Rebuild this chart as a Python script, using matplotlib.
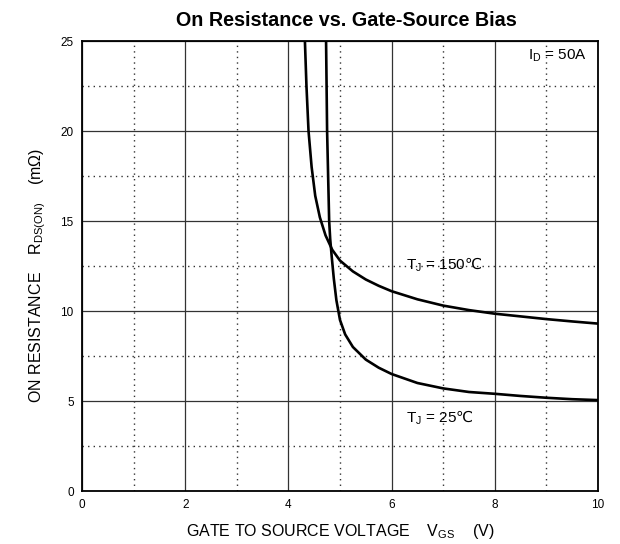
import matplotlib
matplotlib.use("Agg")
import matplotlib.pyplot as plt
from matplotlib.ticker import MultipleLocator

plt.rcParams['font.family'] = ['Liberation Sans', 'DejaVu Sans']
plt.rcParams['mathtext.fontset'] = 'custom'
plt.rcParams['mathtext.rm'] = 'Liberation Sans'
plt.rcParams['mathtext.sf'] = 'DejaVu Sans'

# 150 C curve
vgs_150 = [4.32, 4.35, 4.39, 4.45, 4.52, 4.61, 4.72, 4.85, 5.0, 5.25, 5.5, 5.75, 6.0, 6.5, 7.0, 7.5, 8.0, 8.5, 9.0, 9.5, 10.0]
rds_150 = [25.0, 22.5, 20.0, 18.0, 16.4, 15.2, 14.2, 13.4, 12.8, 12.2, 11.75, 11.4, 11.1, 10.65, 10.3, 10.05, 9.85, 9.7, 9.55, 9.42, 9.3]

# 25 C curve
vgs_25 = [4.73, 4.74, 4.75, 4.77, 4.79, 4.81, 4.84, 4.88, 4.93, 5.0, 5.1, 5.25, 5.5, 5.75, 6.0, 6.5, 7.0, 7.5, 8.0, 8.5, 9.0, 9.5, 10.0]
rds_25 = [25.0, 22.5, 20.0, 17.5, 15.0, 14.0, 13.0, 11.8, 10.6, 9.5, 8.7, 8.0, 7.3, 6.85, 6.5, 6.0, 5.7, 5.5, 5.4, 5.28, 5.18, 5.1, 5.05]

fig = plt.figure(figsize=(6.2, 5.44), dpi=100)
ax = fig.add_axes([82 / 620, 53 / 544, 516 / 620, 450 / 544])

ax.plot(vgs_150, rds_150, color='black', lw=1.9)
ax.plot(vgs_25, rds_25, color='black', lw=1.9)

ax.set_xlim(0, 10)
ax.set_ylim(0, 25)
ax.xaxis.set_major_locator(MultipleLocator(2))
ax.xaxis.set_minor_locator(MultipleLocator(1))
ax.yaxis.set_major_locator(MultipleLocator(5))
ax.yaxis.set_minor_locator(MultipleLocator(2.5))
ax.grid(which='major', color='#333333', lw=0.9, ls='-')
ax.grid(which='minor', color='#333333', lw=1.0, ls=(0, (1, 3)))
ax.tick_params(which='both', length=0, labelsize=8.5, pad=6)
for s in ax.spines.values():
    s.set_linewidth(1.3)

ax.set_title('On Resistance vs. Gate-Source Bias', fontsize=14.2, fontweight='bold', pad=11, x=0.513)
ax.set_xlabel(r'GATE TO SOURCE VOLTAGE    V$_{\mathregular{GS}}$    (V)', fontsize=11.5, labelpad=8)
ax.set_ylabel(r'ON RESISTANCE    R$_{\mathregular{DS(ON)}}$    (mΩ)', fontsize=11.5)
ax.yaxis.set_label_coords(-0.066, 0.48)

ax.text(9.79, 24.2, r'I$_{\mathregular{D}}$ = 50A', fontsize=11, ha='right', va='center')
ax.text(6.28, 12.55, r'T$_{\mathregular{J}}$ = 150$\mathsf{℃}$', fontsize=11, ha='left', va='center')
ax.text(6.28, 4.1, r'T$_{\mathregular{J}}$ = 25$\mathsf{℃}$', fontsize=11, ha='left', va='center')

fig.savefig('out.png', dpi=100)
